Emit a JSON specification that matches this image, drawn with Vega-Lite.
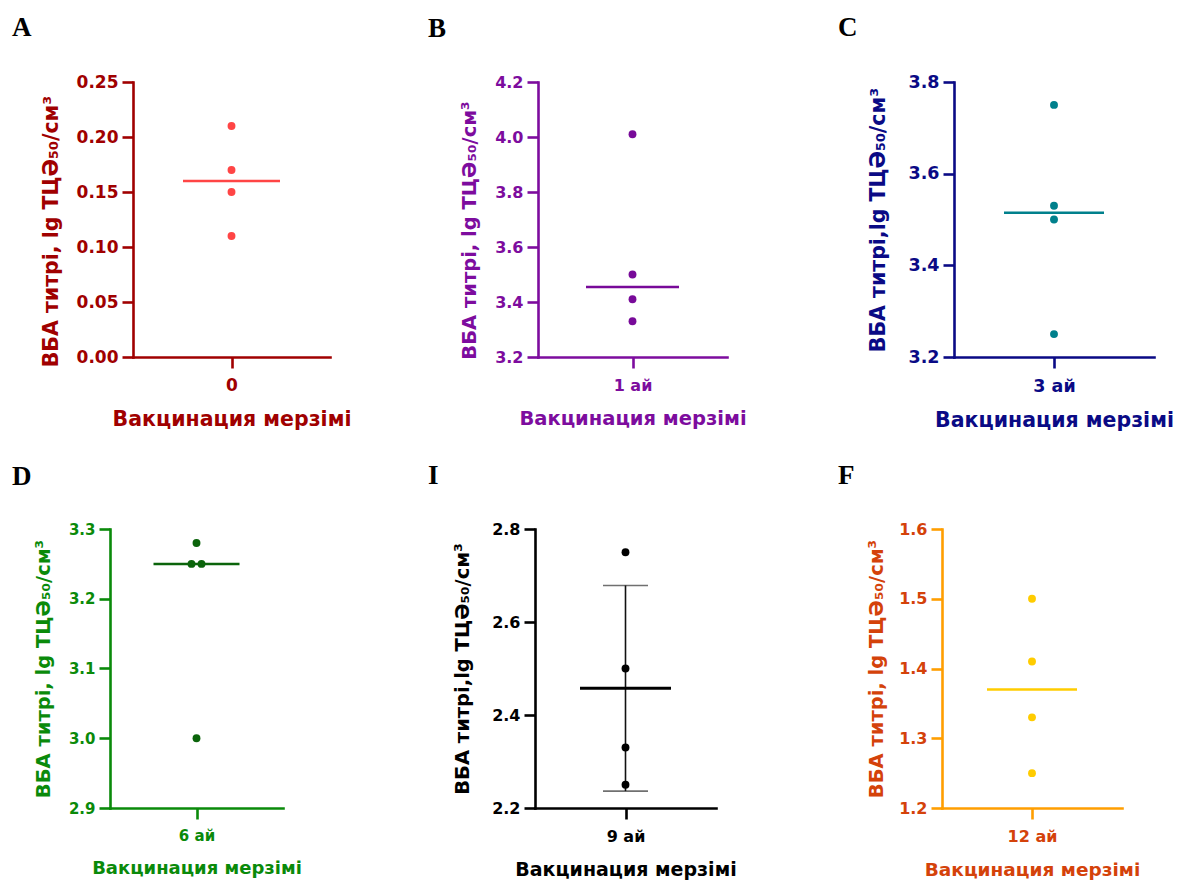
{
  "$schema": "https://vega.github.io/schema/vega-lite/v6.json",
  "background": "white",
  "padding": {"left": 12, "top": 14, "right": 5, "bottom": 5},
  "datasets": {
    "titers": [
      {"panel": "A", "period": "0", "slot": "C", "value": 0.21},
      {"panel": "A", "period": "0", "slot": "C", "value": 0.17},
      {"panel": "A", "period": "0", "slot": "C", "value": 0.15},
      {"panel": "A", "period": "0", "slot": "C", "value": 0.11},
      {"panel": "B", "period": "1 ай", "slot": "C", "value": 4.01},
      {"panel": "B", "period": "1 ай", "slot": "C", "value": 3.50},
      {"panel": "B", "period": "1 ай", "slot": "C", "value": 3.41},
      {"panel": "B", "period": "1 ай", "slot": "C", "value": 3.33},
      {"panel": "C", "period": "3 ай", "slot": "C", "value": 3.75},
      {"panel": "C", "period": "3 ай", "slot": "C", "value": 3.53},
      {"panel": "C", "period": "3 ай", "slot": "C", "value": 3.50},
      {"panel": "C", "period": "3 ай", "slot": "C", "value": 3.25},
      {"panel": "D", "period": "6 ай", "slot": "C", "value": 3.28},
      {"panel": "D", "period": "6 ай", "slot": "L", "value": 3.25},
      {"panel": "D", "period": "6 ай", "slot": "R", "value": 3.25},
      {"panel": "D", "period": "6 ай", "slot": "C", "value": 3.00},
      {"panel": "I", "period": "9 ай", "slot": "C", "value": 2.75},
      {"panel": "I", "period": "9 ай", "slot": "C", "value": 2.50},
      {"panel": "I", "period": "9 ай", "slot": "C", "value": 2.33},
      {"panel": "I", "period": "9 ай", "slot": "C", "value": 2.25},
      {"panel": "F", "period": "12 ай", "slot": "C", "value": 1.50},
      {"panel": "F", "period": "12 ай", "slot": "C", "value": 1.41},
      {"panel": "F", "period": "12 ай", "slot": "C", "value": 1.33},
      {"panel": "F", "period": "12 ай", "slot": "C", "value": 1.25}
    ]
  },
  "config": {
    "view": {"stroke": null},
    "font": "DejaVu Sans",
    "axis": {
      "grid": false,
      "labelFont": "DejaVu Sans",
      "labelFontWeight": "bold",
      "titleFont": "DejaVu Sans",
      "titleFontWeight": "bold",
      "domainWidth": 2.6,
      "tickWidth": 2.6,
      "tickSize": 11,
      "labelPadding": 4,
      "domainCap": "square"
    },
    "axisX": {"labelAngle": 0, "labelPadding": 9, "titlePadding": 16},
    "axisY": {"titlePadding": 15},
    "title": {
      "font": "Liberation Serif",
      "fontSize": 27,
      "fontWeight": "bold",
      "color": "black",
      "anchor": "start",
      "frame": "group",
      "baseline": "alphabetic"
    }
  },
  "columns": 3,
  "align": "each",
  "bounds": "flush",
  "spacing": {"row": 172, "column": 205},
  "concat": [
    {
      "width": 220, "height": 275,
      "title": {"text": "A", "dx": -98, "offset": 31},
      "data": {"name": "titers"},
      "transform": [{"filter": "datum.panel === 'A'"}],
      "layer": [
        {
          "mark": {"type": "circle", "size": 62, "opacity": 1, "color": "#FF4545"},
          "encoding": {
            "x": {"field": "period", "type": "nominal", "title": "Вакцинация мерзімі",
              "scale": {"type": "point", "range": [23, 220]},
              "axis": {"domainColor": "#A00000", "tickColor": "#A00000", "labelColor": "#A00000", "titleColor": "#A00000", "labelFontSize": 17, "titleFontSize": 20.5, "titleX": 121.5}},
            "xOffset": {"field": "slot", "type": "nominal", "scale": {"type": "point", "domain": ["L", "C", "R"], "range": [-5, 5], "padding": 0}},
            "y": {"field": "value", "type": "quantitative", "title": "ВБА титрі, lg ТЦӘ₅₀/см³",
              "scale": {"domain": [0, 0.25], "nice": false, "zero": false},
              "axis": {"values": [0, 0.05, 0.1, 0.15, 0.2, 0.25], "format": ".2f", "offset": -23, "domainColor": "#A00000", "tickColor": "#A00000", "labelColor": "#A00000", "titleColor": "#A00000", "labelFontSize": 17, "titleFontSize": 20.5, "titleY": 149}}
          }
        },
        {
          "mark": {"type": "tick", "size": 97, "thickness": 2.5, "color": "#FF4545"},
          "encoding": {
            "x": {"field": "period", "type": "nominal", "title": "Вакцинация мерзімі"},
            "y": {"aggregate": "median", "field": "value", "type": "quantitative", "title": "ВБА титрі, lg ТЦӘ₅₀/см³"}
          }
        }
      ]
    },
    {
      "width": 202, "height": 275,
      "title": {"text": "B", "dx": -107, "offset": 31},
      "data": {"name": "titers"},
      "transform": [{"filter": "datum.panel === 'B'"}],
      "layer": [
        {
          "mark": {"type": "circle", "size": 62, "opacity": 1, "color": "#780A99"},
          "encoding": {
            "x": {"field": "period", "type": "nominal", "title": "Вакцинация мерзімі",
              "scale": {"type": "point", "range": [3, 192]},
              "axis": {"domainColor": "#7D0C9E", "tickColor": "#7D0C9E", "labelColor": "#7D0C9E", "titleColor": "#7D0C9E", "labelFontSize": 16, "titleFontSize": 19.5, "titleX": 97.5}},
            "xOffset": {"field": "slot", "type": "nominal", "scale": {"type": "point", "domain": ["L", "C", "R"], "range": [-5, 5], "padding": 0}},
            "y": {"field": "value", "type": "quantitative", "title": "ВБА титрі, lg ТЦӘ₅₀/см³",
              "scale": {"domain": [3.2, 4.2], "nice": false, "zero": false},
              "axis": {"values": [3.2, 3.4, 3.6, 3.8, 4.0, 4.2], "format": ".1f", "offset": -3, "domainColor": "#7D0C9E", "tickColor": "#7D0C9E", "labelColor": "#7D0C9E", "titleColor": "#7D0C9E", "labelFontSize": 16, "titleFontSize": 19.5, "titleY": 148}}
          }
        },
        {
          "mark": {"type": "tick", "size": 93, "thickness": 2.5, "color": "#780A99"},
          "encoding": {
            "x": {"field": "period", "type": "nominal", "title": "Вакцинация мерзімі"},
            "y": {"aggregate": "median", "field": "value", "type": "quantitative", "title": "ВБА титрі, lg ТЦӘ₅₀/см³"}
          }
        }
      ]
    },
    {
      "width": 212, "height": 275,
      "title": {"text": "C", "dx": -104, "offset": 31},
      "data": {"name": "titers"},
      "transform": [{"filter": "datum.panel === 'C'"}],
      "layer": [
        {
          "mark": {"type": "circle", "size": 62, "opacity": 1, "color": "#00808C"},
          "encoding": {
            "x": {"field": "period", "type": "nominal", "title": "Вакцинация мерзімі",
              "scale": {"type": "point", "range": [12, 212]},
              "axis": {"domainColor": "#0A0A85", "tickColor": "#0A0A85", "labelColor": "#0A0A85", "titleColor": "#0A0A85", "labelFontSize": 17.5, "titleFontSize": 20.5, "titleX": 112}},
            "xOffset": {"field": "slot", "type": "nominal", "scale": {"type": "point", "domain": ["L", "C", "R"], "range": [-5, 5], "padding": 0}},
            "y": {"field": "value", "type": "quantitative", "title": "ВБА титрі,lg ТЦӘ₅₀/см³",
              "scale": {"domain": [3.2, 3.8], "nice": false, "zero": false},
              "axis": {"values": [3.2, 3.4, 3.6, 3.8], "format": ".1f", "offset": -12, "domainColor": "#0A0A85", "tickColor": "#0A0A85", "labelColor": "#0A0A85", "titleColor": "#0A0A85", "labelFontSize": 17.5, "titleFontSize": 20.5, "titlePadding": 19}}
          }
        },
        {
          "mark": {"type": "tick", "size": 100, "thickness": 2.5, "color": "#00808C"},
          "encoding": {
            "x": {"field": "period", "type": "nominal", "title": "Вакцинация мерзімі"},
            "y": {"aggregate": "median", "field": "value", "type": "quantitative", "title": "ВБА титрі,lg ТЦӘ₅₀/см³"}
          }
        }
      ]
    },
    {
      "width": 220, "height": 279,
      "title": {"text": "D", "dx": -98, "offset": 31},
      "data": {"name": "titers"},
      "transform": [{"filter": "datum.panel === 'D'"}],
      "layer": [
        {
          "mark": {"type": "circle", "size": 62, "opacity": 1, "color": "#0B640B"},
          "encoding": {
            "x": {"field": "period", "type": "nominal", "title": "Вакцинация мерзімі",
              "scale": {"type": "point", "range": [0, 173]},
              "axis": {"domainColor": "#0A8A0A", "tickColor": "#0A8A0A", "labelColor": "#0A8A0A", "titleColor": "#0A8A0A", "labelFontSize": 15, "titleFontSize": 18, "titleX": 86.5}},
            "xOffset": {"field": "slot", "type": "nominal", "scale": {"type": "point", "domain": ["L", "C", "R"], "range": [-5, 5], "padding": 0}},
            "y": {"field": "value", "type": "quantitative", "title": "ВБА титрі, lg ТЦӘ₅₀/см³",
              "scale": {"domain": [2.9, 3.3], "nice": false, "zero": false},
              "axis": {"values": [2.9, 3.0, 3.1, 3.2, 3.3], "format": ".1f", "domainColor": "#0A8A0A", "tickColor": "#0A8A0A", "labelColor": "#0A8A0A", "titleColor": "#0A8A0A", "labelFontSize": 15, "titleFontSize": 19.5}}
          }
        },
        {
          "mark": {"type": "tick", "size": 86, "thickness": 2.5, "color": "#0B640B"},
          "encoding": {
            "x": {"field": "period", "type": "nominal", "title": "Вакцинация мерзімі"},
            "y": {"aggregate": "median", "field": "value", "type": "quantitative", "title": "ВБА титрі, lg ТЦӘ₅₀/см³"}
          }
        }
      ]
    },
    {
      "width": 202, "height": 279,
      "title": {"text": "I", "dx": -107, "offset": 31},
      "data": {"name": "titers"},
      "transform": [{"filter": "datum.panel === 'I'"}],
      "layer": [
        {
          "mark": {"type": "errorbar", "extent": "stdev", "ticks": {"size": 45, "thickness": 1.6, "color": "#333333"}, "rule": {"strokeWidth": 1.6, "color": "#111111"}},
          "encoding": {
            "x": {"field": "period", "type": "nominal", "title": "Вакцинация мерзімі",
              "scale": {"type": "point", "range": [0, 181]},
              "axis": {"domainColor": "#000000", "tickColor": "#000000", "labelColor": "#000000", "titleColor": "#000000", "labelFontSize": 16, "titleFontSize": 19, "titleX": 90.5}},
            "y": {"field": "value", "type": "quantitative", "title": "ВБА титрі,lg ТЦӘ₅₀/см³",
              "scale": {"domain": [2.2, 2.8], "nice": false, "zero": false},
              "axis": {"values": [2.2, 2.4, 2.6, 2.8], "format": ".1f", "domainColor": "#000000", "tickColor": "#000000", "labelColor": "#000000", "titleColor": "#000000", "labelFontSize": 16, "titleFontSize": 19.5, "titlePadding": 19}}
          }
        },
        {
          "mark": {"type": "circle", "size": 62, "opacity": 1, "color": "#000000"},
          "encoding": {
            "x": {"field": "period", "type": "nominal", "title": "Вакцинация мерзімі"},
            "xOffset": {"field": "slot", "type": "nominal", "scale": {"type": "point", "domain": ["L", "C", "R"], "range": [-5, 5], "padding": 0}},
            "y": {"field": "value", "type": "quantitative", "title": "ВБА титрі,lg ТЦӘ₅₀/см³"}
          }
        },
        {
          "mark": {"type": "tick", "size": 91, "thickness": 3, "color": "#000000"},
          "encoding": {
            "x": {"field": "period", "type": "nominal", "title": "Вакцинация мерзімі"},
            "y": {"aggregate": "mean", "field": "value", "type": "quantitative", "title": "ВБА титрі,lg ТЦӘ₅₀/см³"}
          }
        }
      ]
    },
    {
      "width": 212, "height": 279,
      "title": {"text": "F", "dx": -104, "offset": 31},
      "data": {"name": "titers"},
      "transform": [{"filter": "datum.panel === 'F'"}],
      "layer": [
        {
          "mark": {"type": "circle", "size": 62, "opacity": 1, "color": "#FFCC00"},
          "encoding": {
            "x": {"field": "period", "type": "nominal", "title": "Вакцинация мерзімі",
              "scale": {"type": "point", "range": [0, 180]},
              "axis": {"domainColor": "#FF9E00", "tickColor": "#FF9E00", "labelColor": "#D4420A", "titleColor": "#D4420A", "labelFontSize": 16, "titleFontSize": 18.5, "titleX": 90}},
            "xOffset": {"field": "slot", "type": "nominal", "scale": {"type": "point", "domain": ["L", "C", "R"], "range": [-5, 5], "padding": 0}},
            "y": {"field": "value", "type": "quantitative", "title": "ВБА титрі, lg ТЦӘ₅₀/см³",
              "scale": {"domain": [1.2, 1.6], "nice": false, "zero": false},
              "axis": {"values": [1.2, 1.3, 1.4, 1.5, 1.6], "format": ".1f", "domainColor": "#FF9E00", "tickColor": "#FF9E00", "labelColor": "#D4420A", "titleColor": "#D4420A", "labelFontSize": 16, "titleFontSize": 19.5, "titlePadding": 12}}
          }
        },
        {
          "mark": {"type": "tick", "size": 90, "thickness": 2.5, "color": "#FFCC00"},
          "encoding": {
            "x": {"field": "period", "type": "nominal", "title": "Вакцинация мерзімі"},
            "y": {"aggregate": "median", "field": "value", "type": "quantitative", "title": "ВБА титрі, lg ТЦӘ₅₀/см³"}
          }
        }
      ]
    }
  ]
}
